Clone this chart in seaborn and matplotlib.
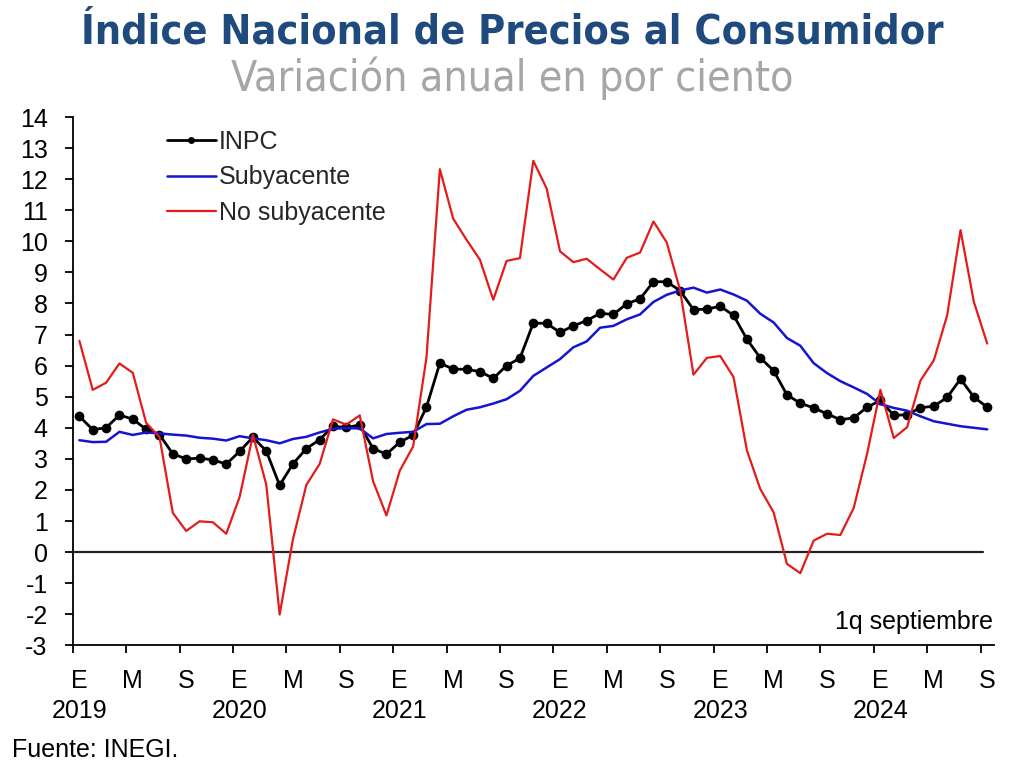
import numpy as np
import pandas as pd
import matplotlib
matplotlib.use("Agg")
import matplotlib.pyplot as plt
import matplotlib.font_manager as fm
import matplotlib.transforms as mtransforms
from matplotlib.lines import Line2D
import seaborn as sns

# ---------------- data ----------------
inpc = [4.37, 3.94, 4.00, 4.41, 4.28, 3.95, 3.78, 3.16, 3.00, 3.02, 2.97, 2.83,
        3.24, 3.70, 3.25, 2.15, 2.84, 3.33, 3.62, 4.05, 4.01, 4.09, 3.33, 3.15,
        3.54, 3.76, 4.67, 6.08, 5.89, 5.88, 5.81, 5.59, 6.00, 6.24, 7.37, 7.36,
        7.07, 7.28, 7.45, 7.68, 7.65, 7.99, 8.15, 8.70, 8.70, 8.41, 7.80, 7.82,
        7.91, 7.62, 6.85, 6.25, 5.84, 5.06, 4.79, 4.64, 4.45, 4.26, 4.32, 4.66,
        4.88, 4.40, 4.42, 4.65, 4.69, 4.98, 5.57, 4.99, 4.66]

subyacente = [3.60, 3.54, 3.55, 3.87, 3.77, 3.85, 3.82, 3.78, 3.75, 3.68, 3.65, 3.59,
              3.73, 3.66, 3.60, 3.50, 3.64, 3.71, 3.85, 3.97, 3.99, 3.98, 3.66, 3.80,
              3.84, 3.87, 4.12, 4.13, 4.37, 4.58, 4.66, 4.78, 4.92, 5.19, 5.67, 5.94,
              6.21, 6.59, 6.78, 7.22, 7.28, 7.49, 7.65, 8.05, 8.28, 8.42, 8.51, 8.35,
              8.45, 8.29, 8.09, 7.67, 7.39, 6.89, 6.64, 6.08, 5.76, 5.50, 5.30, 5.09,
              4.76, 4.64, 4.55, 4.37, 4.21, 4.13, 4.05, 4.00, 3.95]

no_subyacente = [6.80, 5.22, 5.45, 6.07, 5.77, 4.16, 3.70, 1.26, 0.68, 0.99, 0.96, 0.59,
                 1.77, 3.77, 2.17, -2.01, 0.42, 2.16, 2.84, 4.27, 4.10, 4.40, 2.28, 1.18,
                 2.62, 3.40, 6.27, 12.32, 10.73, 10.05, 9.41, 8.12, 9.37, 9.46, 12.59, 11.70,
                 9.68, 9.33, 9.44, 9.10, 8.77, 9.47, 9.64, 10.64, 9.96, 8.42, 5.71, 6.25,
                 6.31, 5.63, 3.27, 2.03, 1.28, -0.38, -0.68, 0.37, 0.59, 0.55, 1.42, 3.16,
                 5.22, 3.67, 4.02, 5.52, 6.17, 7.62, 10.36, 8.05, 6.71]

month_labels = ["E", "M", "S"] * 6
year_labels = ["2019", "2020", "2021", "2022", "2023", "2024"]
series_names = ["INPC", "Subyacente", "No subyacente"]

title = "Índice Nacional de Precios al Consumidor"
subtitle = "Variación anual en por ciento"
note = "1q septiembre"
source = "Fuente: INEGI."

# ---------------- style ----------------
sns.set_theme(style="white")
plt.rcParams['font.family'] = ['Liberation Sans', 'DejaVu Sans']
plt.rcParams['axes.unicode_minus'] = False


def find_condensed(bold):
    best = None
    for f in fm.fontManager.ttflist:
        name = f.name
        narrowish = ("Narrow" in name or "Condensed" in name or
                     str(f.stretch) in ("condensed", "semi-condensed", "extra-condensed"))
        if not narrowish:
            continue
        w = f.weight if isinstance(f.weight, int) else (700 if "bold" in str(f.weight).lower() else 400)
        if bold and w < 600:
            continue
        if not bold and w >= 600:
            continue
        if "italic" in str(f.style).lower() or "oblique" in str(f.style).lower():
            continue
        score = 0 if ("Liberation" in name or "Arial" in name) else (1 if "DejaVu" in name else 2)
        if best is None or score < best[0]:
            best = (score, f.fname)
    return best[1] if best else None


n = len(inpc)
pos = np.arange(n) + 0.5
df = pd.DataFrame({"pos": pos, "INPC": inpc, "Subyacente": subyacente,
                   "No subyacente": no_subyacente})

c_inpc, c_sub, c_nosub = "#000000", "#1414d2", "#e41b1b"

fig = plt.figure(figsize=(10.24, 7.72), dpi=100)
ax = fig.add_axes([0.071, 0.1641, 0.8996, 0.6843])

sns.lineplot(data=df, x="pos", y="INPC", ax=ax, color=c_inpc, linewidth=2.0,
             marker="o", markersize=7, markeredgewidth=0, zorder=3)
sns.lineplot(data=df, x="pos", y="Subyacente", ax=ax, color=c_sub, linewidth=1.8, zorder=4)
sns.lineplot(data=df, x="pos", y="No subyacente", ax=ax, color=c_nosub, linewidth=1.6, zorder=5)

ax.axhline(0, xmin=0, xmax=68.2 / 69, color="#222222", linewidth=1.6, zorder=2)

ax.set_xlim(0, n)
ax.set_ylim(-3, 14)
ax.set_xlabel("")
ax.set_ylabel("")

for s in ["top", "right"]:
    ax.spines[s].set_visible(False)
for s in ["left", "bottom"]:
    ax.spines[s].set_color("black")
    ax.spines[s].set_linewidth(1.3)

ax.set_yticks(np.arange(-3, 15, 1))
ax.set_yticklabels([str(v) for v in range(-3, 15)])
ax.tick_params(axis="y", direction="out", length=6, width=1.3, color="black",
               pad=12, labelsize=18, labelcolor="black", left=True)

major = np.arange(0, n, 4)
ax.set_xticks(major)
ax.set_xticklabels([])
ax.tick_params(axis="x", which="major", direction="out", length=6, width=1.3,
               color="black", bottom=True)
ax.set_xticks(major + 0.5, minor=True)
ax.set_xticklabels(month_labels, minor=True)
ax.tick_params(axis="x", which="minor", length=0, pad=17, labelsize=18,
               labelcolor="black", bottom=True)

trans = mtransforms.blended_transform_factory(ax.transData, fig.transFigure)
for i, yl in enumerate(year_labels):
    ax.text(12 * i + 0.5, 1 - 711 / 772, yl, transform=trans, ha="center", va="center",
            fontsize=18, color="black")

ax.text(0.9995, 0.045, note, transform=ax.transAxes, ha="right", va="center",
        fontsize=18, color="black")

handles = [Line2D([], [], color=c_inpc, linewidth=2.0, marker="o", markersize=5,
                  markeredgewidth=0),
           Line2D([], [], color=c_sub, linewidth=1.8),
           Line2D([], [], color=c_nosub, linewidth=1.6)]
ax.legend(handles, series_names, loc="upper left", bbox_to_anchor=(0.1024, 0.975),
          frameon=False, fontsize=18, handlelength=1.95, handletextpad=0.12,
          labelspacing=0.45, borderpad=0, borderaxespad=0)

# titles: prefer a condensed face, then fit to the reference width
bold_file = find_condensed(True)
reg_file = find_condensed(False)
if bold_file:
    tprops = fm.FontProperties(fname=bold_file, size=38)
else:
    tprops = fm.FontProperties(family="Liberation Sans", weight="bold", size=38)
if reg_file:
    sprops = fm.FontProperties(fname=reg_file, size=38)
else:
    sprops = fm.FontProperties(family="Liberation Sans", size=38)

t1 = fig.text(0.5, 1 - 44 / 772, title, ha="center", va="baseline",
              fontproperties=tprops, color="#1f4a7e")
t2 = fig.text(0.5, 1 - 91 / 772, subtitle, ha="center", va="baseline",
              fontproperties=sprops, color="#a6a6a6")
fig.text(12 / 1024, 1 - 750 / 772, source, ha="left", va="center", fontsize=18,
         color="black")

renderer = fig.canvas.get_renderer()
for t, target in ((t1, 863.0), (t2, 561.0)):
    w = t.get_window_extent(renderer).width
    if w > 0:
        t.set_fontsize(min(38, t.get_fontsize() * target / w))

fig.savefig("out.png", dpi=100)
